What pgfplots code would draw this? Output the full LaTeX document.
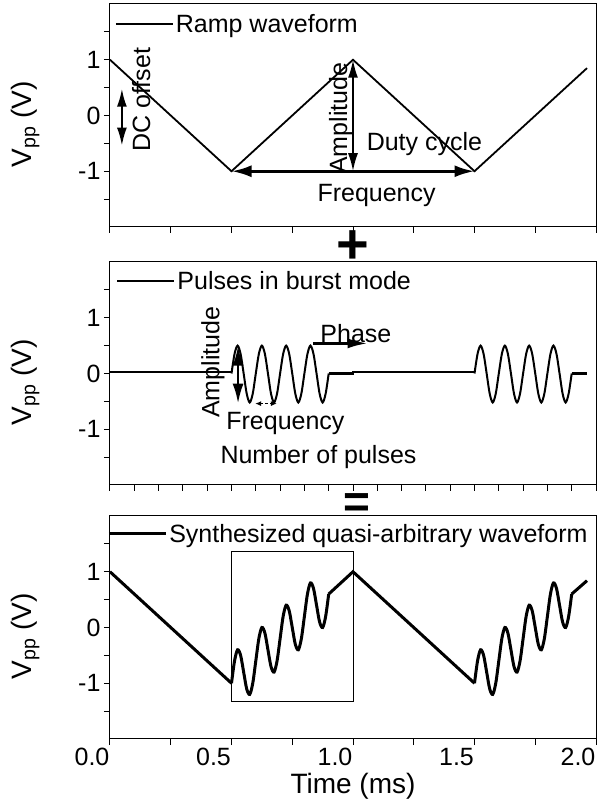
\documentclass[border=0pt]{standalone}
\usepackage{fontspec}
\setmainfont{Liberation Sans}
\usepackage{pgfplots}
\pgfplotsset{compat=1.18}
\usetikzlibrary{arrows.meta}

\newcommand\txt{\fontsize{25}{30}\selectfont}
\newcommand\lbl{\fontsize{28}{33}\selectfont}

\pgfplotsset{
  panel/.style={
    scale only axis, width=486pt, height=223pt,
    xmin=0, xmax=2, ymin=-2, ymax=2,
    axis line style={line width=1pt},
    tick pos=left, tick align=outside,
    major tick length=6pt, minor tick length=6pt,
    tick style={line width=1pt, black},
    xtick={0,0.5,1,1.5,2},
    ytick={-1,0,1}, yticklabels={-1,0,1},
    minor ytick={-1.5,-0.5,0.5,1.5},
    ticklabel style={font=\txt},
    xticklabel style={xshift=-18pt},
    ylabel={V\textsubscript{pp} (V)},
    ylabel style={font=\lbl, at={(axis description cs:-0.138,0.46)}, anchor=south},
    clip=false,
    legend style={draw=none, fill=none, font=\txt, anchor=west, inner sep=0pt},
    legend image code/.code={\draw[#1] (0pt,0pt) -- (57pt,0pt);},
  },
}
\tikzset{
  big/.tip={Latex[length=18pt,width=10pt]},
  ann/.style={font=\txt},
}

\begin{document}
\begin{tikzpicture}
\useasboundingbox (0pt,0pt) rectangle (598pt,809pt);

% ---- panel 1: ramp
\begin{axis}[panel, at={(110pt,582pt)}, anchor=south west,
  xticklabels={}, minor xtick={0.25,0.75,1.25,1.75},
  legend style={at={(axis cs:0.02,1.64)}}]
\addplot[black, line width=1.8pt] coordinates {
  (0,1) (0.5,-1) (1.0,1) (1.5,-1) (1.963,0.85)
};
\addlegendentry{Ramp waveform}
\draw[line width=2pt, big-big] (axis cs:0.049,0.48) -- (axis cs:0.049,-0.54);
\node[ann, rotate=90] at (axis cs:0.128,0.28) {DC offset};
\draw[line width=2pt, big-big] (axis cs:1.0,1) -- (axis cs:1.0,-1);
\node[ann, rotate=90] at (axis cs:0.949,-0.05) {Amplitude};
\node[ann] at (axis cs:1.294,-0.51) {Duty cycle};
\draw[line width=3pt, {Latex[length=20pt,width=12pt]}-{Latex[length=20pt,width=12pt]}] (axis cs:0.5,-1) -- (axis cs:1.5,-1);
\node[ann] at (axis cs:1.097,-1.44) {Frequency};
\node[inner sep=0pt, font=\fontsize{56}{56}\selectfont\bfseries] at (axis cs:1.0,-2.36) {+};
\end{axis}

% ---- panel 2: pulses in burst mode
\begin{axis}[panel, at={(110pt,324pt)}, anchor=south west,
  xticklabels={},
  minor xtick={0.1,0.2,0.3,0.4,0.6,0.7,0.8,0.9,1.1,1.2,1.3,1.4,1.6,1.7,1.8,1.9},
  legend style={at={(axis cs:0.025,1.66)}}]
\addplot[black, line width=2.2pt] coordinates {(0,0.02) (0.25,0.02) (0.5,0.02)};
\addlegendentry{Pulses in burst mode}
\addplot[black, line width=2pt, smooth, forget plot] coordinates {
  (0.5,0) (0.5125,0.35) (0.525,0.5) (0.5375,0.35) (0.55,0) (0.5625,-0.36) (0.575,-0.52) (0.5875,-0.36)
  (0.6,0) (0.6125,0.35) (0.625,0.5) (0.6375,0.35) (0.65,0) (0.6625,-0.36) (0.675,-0.52) (0.6875,-0.36)
  (0.7,0) (0.7125,0.35) (0.725,0.5) (0.7375,0.35) (0.75,0) (0.7625,-0.36) (0.775,-0.52) (0.7875,-0.36)
  (0.8,0) (0.8125,0.35) (0.825,0.5) (0.8375,0.35) (0.85,0) (0.8625,-0.36) (0.875,-0.52) (0.8875,-0.36)
  (0.9,0)
};
\addplot[black, line width=2.2pt, forget plot] coordinates {
  (0.9,0) (1.0,0) (1.0,0.02) (1.25,0.02) (1.5,0.02)
};
\addplot[black, line width=2pt, smooth, forget plot] coordinates {
  (1.5,0) (1.5125,0.35) (1.525,0.5) (1.5375,0.35) (1.55,0) (1.5625,-0.36) (1.575,-0.52) (1.5875,-0.36)
  (1.6,0) (1.6125,0.35) (1.625,0.5) (1.6375,0.35) (1.65,0) (1.6625,-0.36) (1.675,-0.52) (1.6875,-0.36)
  (1.7,0) (1.7125,0.35) (1.725,0.5) (1.7375,0.35) (1.75,0) (1.7625,-0.36) (1.775,-0.52) (1.7875,-0.36)
  (1.8,0) (1.8125,0.35) (1.825,0.5) (1.8375,0.35) (1.85,0) (1.8625,-0.36) (1.875,-0.52) (1.8875,-0.36)
  (1.9,0)
};
\addplot[black, line width=2.2pt, forget plot] coordinates {(1.9,0) (1.963,0)};
\draw[line width=2.5pt, {Latex[length=20pt,width=11pt]}-{Latex[length=20pt,width=11pt]}] (axis cs:0.527,0.5) -- (axis cs:0.527,-0.54);
\node[ann, rotate=90] at (axis cs:0.424,0.2) {Amplitude};
\draw[line width=1.2pt, dash pattern=on 3pt off 2pt, {Latex[length=6pt,width=5pt]}-{Latex[length=6pt,width=5pt]}] (axis cs:0.597,-0.54) -- (axis cs:0.687,-0.54);
\node[ann] at (axis cs:0.722,-0.90) {Frequency};
\node[ann] at (axis cs:0.858,-1.49) {Number of pulses};
\node[ann] at (axis cs:1.012,0.71) {Phase};
\draw[line width=2.5pt, -{Latex[length=20pt,width=10pt]}] (axis cs:0.835,0.54) -- (axis cs:1.06,0.54);
\node[inner sep=0pt, font=\fontsize{46}{46}\selectfont\bfseries] at (axis cs:1.015,-2.36) {=};
\end{axis}

% ---- panel 3: synthesized waveform
\begin{axis}[panel, at={(110pt,70pt)}, anchor=south west,
  xticklabels={0.0,0.5,1.0,1.5,2.0}, minor xtick={0.25,0.75,1.25,1.75},
  xlabel={Time (ms)}, xlabel style={font=\lbl},
  legend style={at={(axis cs:-0.012,1.68)}}]
\addplot[black, line width=3pt] coordinates {(0,1) (0.25,0) (0.5,-1)};
\addlegendentry{Synthesized quasi-arbitrary waveform}
\addplot[black, line width=3pt, smooth, forget plot] coordinates {
  (0.5,-1.00) (0.5125,-0.60) (0.525,-0.40) (0.5375,-0.50) (0.55,-0.80) (0.5625,-1.10) (0.575,-1.20) (0.5875,-1.00)
  (0.6,-0.60) (0.6125,-0.20) (0.625,0.00) (0.6375,-0.10) (0.65,-0.40) (0.6625,-0.70) (0.675,-0.80) (0.6875,-0.60)
  (0.7,-0.20) (0.7125,0.20) (0.725,0.40) (0.7375,0.30) (0.75,0.00) (0.7625,-0.30) (0.775,-0.40) (0.7875,-0.20)
  (0.8,0.20) (0.8125,0.60) (0.825,0.80) (0.8375,0.70) (0.85,0.40) (0.8625,0.10) (0.875,0.00) (0.8875,0.20)
  (0.9,0.60)
};
\addplot[black, line width=3pt, forget plot] coordinates {(0.9,0.60) (1.0,1.0) (1.25,0) (1.5,-1)};
\addplot[black, line width=3pt, smooth, forget plot] coordinates {
  (1.5,-1.00) (1.5125,-0.60) (1.525,-0.40) (1.5375,-0.50) (1.55,-0.80) (1.5625,-1.10) (1.575,-1.20) (1.5875,-1.00)
  (1.6,-0.60) (1.6125,-0.20) (1.625,0.00) (1.6375,-0.10) (1.65,-0.40) (1.6625,-0.70) (1.675,-0.80) (1.6875,-0.60)
  (1.7,-0.20) (1.7125,0.20) (1.725,0.40) (1.7375,0.30) (1.75,0.00) (1.7625,-0.30) (1.775,-0.40) (1.7875,-0.20)
  (1.8,0.20) (1.8125,0.60) (1.825,0.80) (1.8375,0.70) (1.85,0.40) (1.8625,0.10) (1.875,0.00) (1.8875,0.20)
  (1.9,0.60)
};
\addplot[black, line width=3pt, forget plot] coordinates {(1.9,0.60) (1.963,0.84)};
\draw[line width=1pt] (axis cs:0.502,-1.32) rectangle (axis cs:1.004,1.36);
\end{axis}
\end{tikzpicture}
\end{document}
